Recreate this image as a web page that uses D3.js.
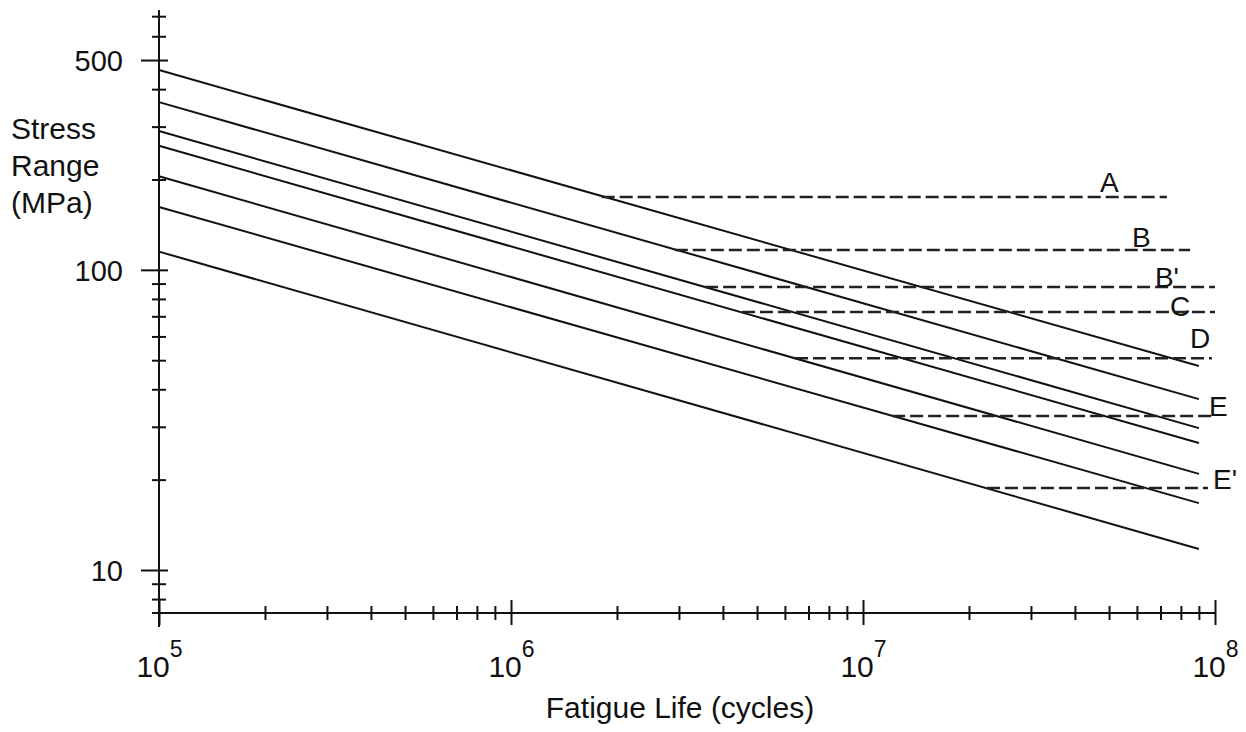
<!DOCTYPE html>
<html>
<head>
<meta charset="utf-8">
<script src="https://cdn.jsdelivr.net/npm/d3@7"></script>
<style>
    body { margin: 0; background: #fff; }
    svg { display: block; }
</style>
</head>
<body>
<svg id="chart"></svg>
<script>
// fatigue categories (stress in MPa, life in cycles)
const categories = ["A", "B", "B'", "C", "D", "E", "E'"];
const lifeStart = 1e5;
const lifeEnd = 9e7;
const stressAtStart = [463, 362, 290, 259, 205, 162, 115];
const stressAtEnd = [47.8, 37.1, 29.7, 26.5, 20.9, 16.7, 11.75];

// constant amplitude thresholds (dashed)
const thresholdStress = [174.8, 116.4, 87.7, 72.4, 50.8, 32.6, 18.75];
const thresholdFrom = [1.81e6, 2.92e6, 3.56e6, 4.53e6, 6.41e6, 1.21e7, 2.25e7];
const thresholdTo = [7.3e7, 8.5e7, 1e8, 1e8, 9.8e7, 1e8, 9.55e7];

// where the category letters sit
const labelLife = [4.71e7, 5.81e7, 6.75e7, 7.45e7, 8.49e7, 9.61e7, 9.87e7];
const labelStress = [181.5, 119.1, 87.7, 70.2, 54.9, 32.6, 18.6];

const xMajorTicks = [1e5, 1e6, 1e7, 1e8];
const xTickExponents = ["5", "6", "7", "8"];
const yMajorTicks = [10, 100, 500];
const yTickLabels = ["10", "100", "500"];

const xTitle = "Fatigue Life (cycles)";
const yTitle = ["Stress", "Range", "(MPa)"];

class SNChart {
    constructor() {
        this.width = 1246;
        this.height = 732;
        this.fontFamily = "'Liberation Sans', Arial, sans-serif";
        this.ink = "#111";

        this.svg = d3.select("#chart")
            .attr("width", this.width)
            .attr("height", this.height);

        this.x = d3.scaleLog().domain([1e5, 1e8]).range([159, 1215]);
        this.y = d3.scaleLog().domain([7.19, 734]).range([613, 10]);

        this.drawAxes();
        this.drawLines();
        this.drawThresholds();
        this.drawTitles();
    }

    drawAxes() {
        const x = this.x, y = this.y;
        const x0 = x(1e5), y0 = y.range()[0];

        // axis lines
        this.svg.append("line")
            .attr("x1", x0 - 7).attr("x2", x(1e8))
            .attr("y1", y0).attr("y2", y0)
            .attr("stroke", this.ink).attr("stroke-width", 2);
        this.svg.append("line")
            .attr("x1", x0).attr("x2", x0)
            .attr("y1", y.range()[1]).attr("y2", y0 + 14)
            .attr("stroke", this.ink).attr("stroke-width", 2);

        // x ticks
        const xMinor = x.ticks().filter(d => !xMajorTicks.includes(d));
        const xMinorAxis = d3.axisBottom(x).tickValues(xMinor).tickSize(7).tickFormat("");
        const gxm = this.svg.append("g").attr("transform", `translate(0,${y0})`).call(xMinorAxis);
        gxm.selectAll(".tick line").attr("y1", -7);

        const xMajorAxis = d3.axisBottom(x).tickValues(xMajorTicks).tickSize(12).tickFormat("");
        const gx = this.svg.append("g").attr("transform", `translate(0,${y0})`).call(xMajorAxis);
        gx.selectAll(".tick line").attr("y1", -13);

        gx.selectAll(".tick").append("text")
            .attr("x", 0).attr("y", 64)
            .attr("text-anchor", "middle")
            .style("font-family", this.fontFamily)
            .attr("fill", this.ink)
            .each(function(d, i) {
                const t = d3.select(this);
                t.append("tspan").attr("font-size", 30).text("10");
                t.append("tspan").attr("font-size", 23).attr("dy", -20).text(xTickExponents[i]);
            });

        // y ticks
        const yMinor = y.ticks().filter(d => !yMajorTicks.includes(d));
        const yMinorAxis = d3.axisLeft(y).tickValues(yMinor).tickSize(7).tickFormat("");
        const gym = this.svg.append("g").attr("transform", `translate(${x0},0)`).call(yMinorAxis);
        gym.selectAll(".tick line").attr("x1", 7);

        const yMajorAxis = d3.axisLeft(y).tickValues(yMajorTicks).tickSize(18).tickPadding(18)
            .tickFormat((d, i) => yTickLabels[i]);
        const gy = this.svg.append("g").attr("transform", `translate(${x0},0)`).call(yMajorAxis);
        gy.selectAll(".tick line").attr("x1", 9);
        gy.selectAll(".tick text")
            .style("font-family", this.fontFamily)
            .attr("font-size", 29)
            .attr("fill", this.ink)
            .attr("dy", "0.36em");

        this.svg.selectAll(".domain").remove();
        this.svg.selectAll(".tick line").attr("stroke", this.ink).attr("stroke-width", 2);
    }

    drawLines() {
        const line = d3.line().x(d => this.x(d[0])).y(d => this.y(d[1]));
        const data = categories.map((c, i) => [[lifeStart, stressAtStart[i]], [lifeEnd, stressAtEnd[i]]]);

        this.svg.append("g").selectAll("path")
            .data(data)
            .enter()
            .append("path")
            .attr("d", line)
            .attr("fill", "none")
            .attr("stroke", this.ink)
            .attr("stroke-width", 2);
    }

    drawThresholds() {
        const g = this.svg.append("g");
        g.selectAll("line")
            .data(categories)
            .enter()
            .append("line")
            .attr("x1", (d, i) => this.x(thresholdFrom[i]))
            .attr("x2", (d, i) => this.x(thresholdTo[i]))
            .attr("y1", (d, i) => this.y(thresholdStress[i]))
            .attr("y2", (d, i) => this.y(thresholdStress[i]))
            .attr("stroke", "#222")
            .attr("stroke-width", 2.5)
            .attr("stroke-dasharray", "13,5");

        g.selectAll("text")
            .data(categories)
            .enter()
            .append("text")
            .attr("x", (d, i) => this.x(labelLife[i]))
            .attr("y", (d, i) => this.y(labelStress[i]))
            .style("font-family", this.fontFamily)
            .attr("font-size", 28)
            .attr("fill", this.ink)
            .text(d => d);
    }

    drawTitles() {
        this.svg.append("text")
            .attr("x", 680).attr("y", 718)
            .attr("text-anchor", "middle")
            .style("font-family", this.fontFamily)
            .attr("font-size", 30)
            .attr("fill", this.ink)
            .text(xTitle);

        const t = this.svg.append("text")
            .attr("x", 11).attr("y", 139)
            .style("font-family", this.fontFamily)
            .attr("font-size", 30)
            .attr("fill", this.ink);
        t.selectAll("tspan")
            .data(yTitle)
            .enter()
            .append("tspan")
            .attr("x", 11)
            .attr("dy", (d, i) => i === 0 ? 0 : 37)
            .text(d => d);
    }
}

new SNChart();
</script>
</body>
</html>
